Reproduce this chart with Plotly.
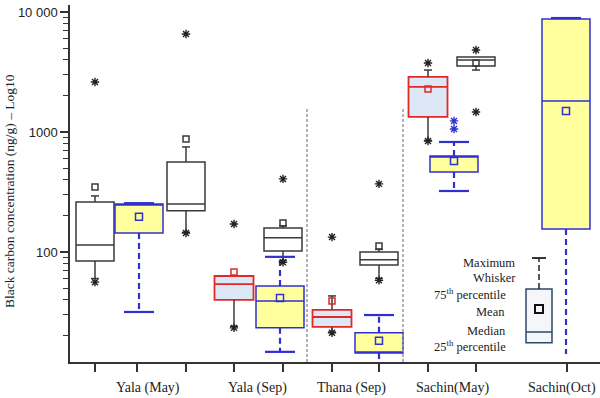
import plotly.graph_objects as go
import math

# ---------------- data ----------------
group_labels = ["Yala (May)", "Yala (Sep)", "Thana (Sep)", "Sachin(May)", "Sachin(Oct)"]

# black/grey series
black_q1 = [84, 220, 102, 78, 3548]
black_med = [114, 251, 131, 86, 3981]
black_q3 = [261, 562, 158, 100, 4217]
black_lo = [60, 146, 85, 60, 3280]
black_up = [293, 750, 165, 105, 4217]
black_mean = [348, 875, 174, 112, 3758]
black_out = [[2610, 56], [6560, 144], [406, 82], [369, 58], [4820, 1468]]

# red series
red_q1 = [39.8, 23.7, 1334]
red_med = [54, 28.7, 2371]
red_q3 = [63, 32.9, 2873]
red_lo = [24, 21.5, 850]
red_up = [63, 43, 3280]
red_mean = [68, 39, 2282]
red_out = [[171, 23.3], [133, 21.2], [3758, 841]]

# yellow series
yel_q1 = [144, 23.3, 14.4, 464, 155]
yel_med = [251, 39, 14.4, 631, 1811]
yel_q3 = [251, 52, 21.2, 631, 8750]
yel_lo = [31.6, 14.7, 11, 322, 14.1]
yel_up = [255, 91, 29.8, 825, 8900]
yel_mean = [196, 41.4, 18.2, 573, 1496]
yel_out = [[], [], [], [1236, 1059], []]
yel_lowcap = [True, True, True, True, False]

# key (legend) box
key_q1, key_med, key_q3, key_up, key_mean = 17.5, 21.5, 49, 89, 33.5
key_labels = ["Maximum", "Whisker", "75<sup>th</sup> percentile", "Mean", "Median", "25<sup>th</sup> percentile"]

# ---------------- layout positions (x-axis units) ----------------
black_pos = [25, 116, 213, 309, 406]
red_pos = [164, 262, 358]
yel_pos = [69, 210, 309, 384, 496]
key_pos = 469
tick_pos = [25, 67, 116, 164, 213, 262, 309, 358, 406, 497]
label_pos = [78, 187, 281, 382, 492]
sep_pos = [237, 333]

BLACK = "#3a3a3a"
RED = "#e02a2a"
BLUE = "#3030d0"
YFILL = "#ffff9e"
RFILL = "#dde8f6"
SERIF = "Liberation Serif, Times New Roman, DejaVu Serif, serif"
SANS = "Liberation Sans, Arial, sans-serif"

fig = go.Figure()


def add_boxes(pos, q1, med, q3, width, fill, lcolor, lw=1.5):
    for p, a, m, b in zip(pos, q1, med, q3):
        fig.add_trace(go.Box(x=[p], q1=[a], median=[m], q3=[b], lowerfence=[a], upperfence=[b],
                             width=width, fillcolor=fill, line=dict(color=lcolor, width=lw),
                             whiskerwidth=0, boxpoints=False, showlegend=False, hoverinfo="skip"))


def add_whiskers(pos, q1, q3, lo, up, color, width, dash, capw, capcolor, capwidth, lowcap=None):
    xs, ys, cx, cy = [], [], [], []
    for i, (p, a, b, l, u) in enumerate(zip(pos, q1, q3, lo, up)):
        xs += [p, p, None, p, p, None]
        ys += [a, l, None, b, u, None]
        if u > b:
            cx += [p - capw / 2, p + capw / 2, None]
            cy += [u, u, None]
        if l < a and (lowcap is None or lowcap[i]):
            cx += [p - capw / 2, p + capw / 2, None]
            cy += [l, l, None]
    fig.add_trace(go.Scatter(x=xs, y=ys, mode="lines", line=dict(color=color, width=width, dash=dash),
                             showlegend=False, hoverinfo="skip"))
    fig.add_trace(go.Scatter(x=cx, y=cy, mode="lines", line=dict(color=capcolor, width=capwidth),
                             showlegend=False, hoverinfo="skip"))


def add_points(pos, vals, symbol, color, size, lw):
    xs, ys = [], []
    for p, v in zip(pos, vals):
        if isinstance(v, list):
            for vv in v:
                xs.append(p)
                ys.append(vv)
        else:
            xs.append(p)
            ys.append(v)
    fig.add_trace(go.Scatter(x=xs, y=ys, mode="markers",
                             marker=dict(symbol=symbol, size=size, color=color, line=dict(color=color, width=lw)),
                             showlegend=False, hoverinfo="skip", cliponaxis=False))


# whiskers first (behind boxes)
add_whiskers(black_pos, black_q1, black_q3, black_lo, black_up, BLACK, 1.5, "solid", 8, BLACK, 1.5)
add_whiskers(red_pos, red_q1, red_q3, red_lo, red_up, BLACK, 1.5, "solid", 8, BLACK, 1.5)
add_whiskers(yel_pos, yel_q1, yel_q3, yel_lo, yel_up, BLUE, 2.2, "6px,4px", 30, BLUE, 2.2, yel_lowcap)
add_whiskers([key_pos], [key_q3], [key_q3], [key_q3], [key_up], "#222222", 1.5, "6px,3px", 14, "#222222", 1.8)

add_boxes(black_pos, black_q1, black_med, black_q3, 38, "white", BLACK)
add_boxes(red_pos, red_q1, red_med, red_q3, 39, RFILL, RED, 1.8)
add_boxes(yel_pos, yel_q1, yel_med, yel_q3, 48, YFILL, BLUE, 1.5)
add_boxes([key_pos], [key_q1], [key_med], [key_q3], 26, "#f5f6fa", "#2d4a6a", 1.5)

# means
add_points(black_pos, black_mean, "square-open", BLACK, 6, 1.5)
add_points(red_pos, red_mean, "square-open", RED, 6, 1.5)
add_points(yel_pos, yel_mean, "square-open", BLUE, 7, 1.5)
add_points([key_pos], [key_mean], "square-open", "#111111", 8, 2)

# outliers
add_points(black_pos, black_out, "asterisk-open", "#222222", 7, 1.4)
add_points(red_pos, red_out, "asterisk-open", "#222222", 7, 1.4)
add_points(yel_pos, yel_out, "asterisk-open", BLUE, 7, 1.4)

# separators
for s in sep_pos:
    fig.add_shape(type="line", xref="x", yref="paper", x0=s, x1=s, y0=0, y1=0.714,
                  line=dict(color="#999999", width=1.5, dash="3px,2px"))

# group labels
for lab, p in zip(group_labels, label_pos):
    fig.add_annotation(x=p, xref="x", y=-0.073, yref="paper", text=lab, showarrow=False,
                       font=dict(family=SERIF, size=14, color="#222222"), yanchor="middle")

# key labels (pixel rows converted to paper coords)
key_rows = [263, 278, 294, 312, 331, 346]
key_right = [517, 518, 508, 507, 508, 508]
for t, r, xr in zip(key_labels, key_rows, key_right):
    fig.add_annotation(x=(xr - 70) / 530, xref="paper", y=(362 - r) / 357, yref="paper", text=t,
                       showarrow=False, xanchor="right", yanchor="middle",
                       font=dict(family=SERIF, size=12.5, color="#222222"))

# y-axis title as annotation
fig.add_annotation(x=(10 - 70) / 530, xref="paper", y=(362 - 191) / 357, yref="paper",
                   text="Black carbon concentration (ng/g) – Log10", textangle=-90, showarrow=False,
                   font=dict(family=SERIF, size=13.5, color="#222222"), xanchor="center", yanchor="middle")

minor_vals = [k * 10 ** e for e in (1, 2, 3) for k in range(2, 10)]

fig.update_layout(
    width=600, height=398, margin=dict(l=70, r=0, t=5, b=36),
    plot_bgcolor="white", paper_bgcolor="white", showlegend=False,
    xaxis=dict(range=[0, 530], showgrid=False, zeroline=False, showline=True, linecolor="#333333",
               linewidth=1.5, ticks="outside", ticklen=8, tickwidth=1.5, tickcolor="#333333",
               tickvals=tick_pos, showticklabels=False),
    yaxis=dict(type="log", range=[math.log10(12.1), 4.058], showgrid=False, zeroline=False,
               showline=True, linecolor="#333333", linewidth=1.5, ticks="outside", ticklen=8,
               tickwidth=1.5, tickcolor="#333333", tickvals=[100, 1000, 10000],
               ticktext=["100", "1000", "10 000"], tickfont=dict(family=SANS, size=13, color="#222222"),
               minor=dict(tickvals=minor_vals, ticks="outside", ticklen=5, tickwidth=1.2, tickcolor="#333333")),
)

fig.write_html("out.html", config={"displayModeBar": False},
               post_script="document.body.style.margin='0';document.body.style.overflow='hidden';")
